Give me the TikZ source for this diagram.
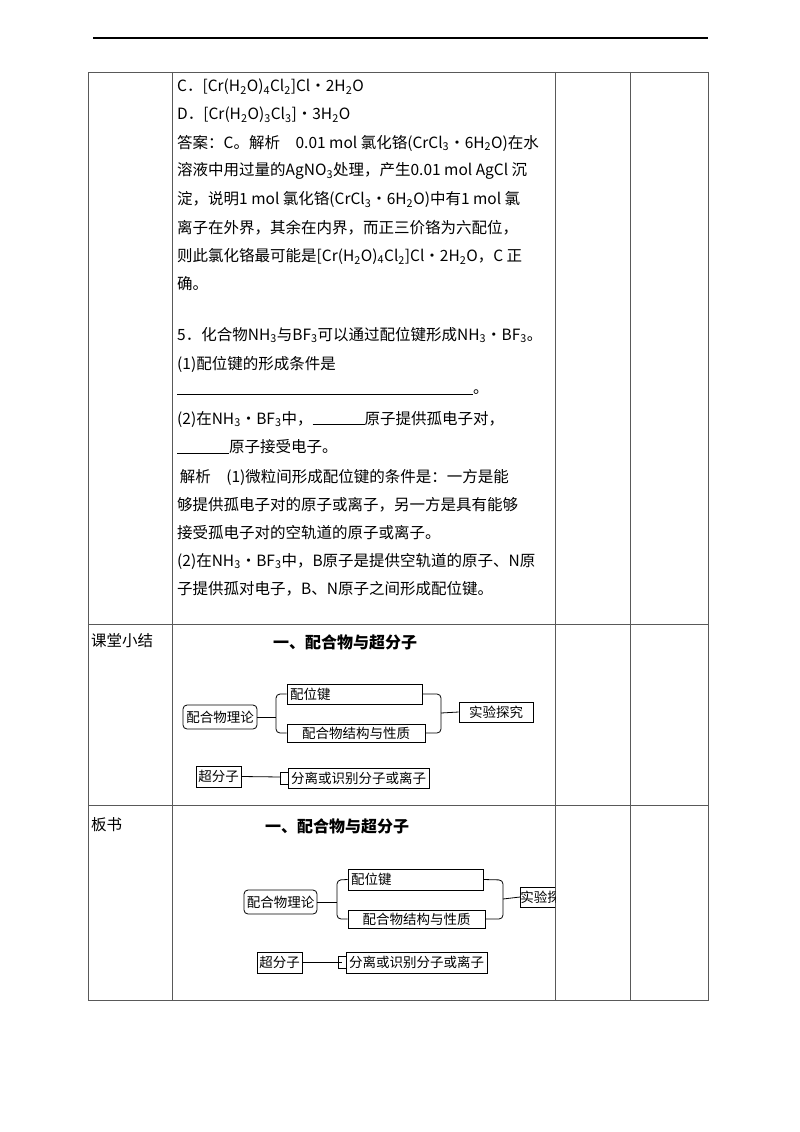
\documentclass[tikz,border=0pt]{standalone}
\usepackage{fontspec}
\setmainfont{Noto Sans CJK SC}
\begin{document}
\begin{tikzpicture}[x=1pt,y=-1pt,
  txt/.style={anchor=west,inner sep=0pt,font=\fontsize{15.5}{17}\selectfont},
  bx/.style={draw,line width=0.8pt,inner sep=0pt,font=\fontsize{13.5}{15}\selectfont},
  ln/.style={line width=0.8pt}]
\useasboundingbox (0,0) rectangle (800,1132);
\fill[white] (0,0) rectangle (800,1132);
% header rule
\draw[line width=1.2pt] (93,38) -- (708,38);
% table
\draw[line width=0.8pt,gray!70!black] (88,72) rectangle (708,1000);
\foreach \x in {172,555,630} \draw[line width=0.8pt,gray!70!black] (\x,72) -- (\x,1000);
\draw[line width=0.8pt,gray!70!black] (88,624) -- (708,624);
\draw[line width=0.8pt,gray!70!black] (88,805) -- (708,805);
\node[txt] (l1) at (91,641) {课堂小结};
\node[txt] (l2) at (91,825) {板书};
% main text
\node[txt] (t1) at (177,87) {C．[Cr(H\textsubscript{2}O)\textsubscript{4}Cl\textsubscript{2}]Cl·2H\textsubscript{2}O};
\node[txt] (t2) at (177,115) {D．[Cr(H\textsubscript{2}O)\textsubscript{3}Cl\textsubscript{3}]·3H\textsubscript{2}O};
\node[txt] (t3) at (177,143) {答案：C。解析\quad 0.01 mol 氯化铬(CrCl\textsubscript{3}·6H\textsubscript{2}O)在水};
\node[txt] (t4) at (177,171) {溶液中用过量的AgNO\textsubscript{3}处理，产生0.01 mol AgCl 沉};
\node[txt] (t5) at (177,199) {淀，说明1 mol 氯化铬(CrCl\textsubscript{3}·6H\textsubscript{2}O)中有1 mol 氯};
\node[txt] (t6) at (177,228) {离子在外界，其余在内界，而正三价铬为六配位，};
\node[txt] (t7) at (177,256) {则此氯化铬最可能是[Cr(H\textsubscript{2}O)\textsubscript{4}Cl\textsubscript{2}]Cl·2H\textsubscript{2}O，C 正};
\node[txt] (t8) at (177,284) {确。};
\node[txt] (t9) at (177,335) {5．化合物NH\textsubscript{3}与BF\textsubscript{3}可以通过配位键形成NH\textsubscript{3}·BF\textsubscript{3}。};
\node[txt] (t10) at (177,364) {(1)配位键的形成条件是};
\node[txt] (t11) at (177,392) {\rule[-1pt]{296pt}{0.6pt}。};
\node[txt] (t12) at (177,419) {(2)在NH\textsubscript{3}·BF\textsubscript{3}中，\rule[-1pt]{52pt}{0.6pt}原子提供孤电子对，};
\node[txt] (t13) at (177,447) {\rule[-1pt]{52pt}{0.6pt}原子接受电子。};
\node[txt] (t14) at (177,477) {\,解析\quad (1)微粒间形成配位键的条件是：一方是能};
\node[txt] (t15) at (177,505) {够提供孤电子对的原子或离子，另一方是具有能够};
\node[txt] (t16) at (177,533) {接受孤电子对的空轨道的原子或离子。};
\node[txt] (t17) at (177,561) {(2)在NH\textsubscript{3}·BF\textsubscript{3}中，B原子是提供空轨道的原子、N原};
\node[txt] (t18) at (177,589) {子提供孤对电子，B、N原子之间形成配位键。};
% diagram 1
\node[font=\bfseries\fontsize{16}{18}\selectfont] (h1) at (345,642) {一、配合物与超分子};
\node[bx,rounded corners=4pt,minimum width=74pt,minimum height=24pt] (a1) at (220,717) {配合物理论};
\node[bx,minimum width=135pt,minimum height=20pt,text width=129pt,align=left] (b1) at (354.5,694) {配位键};
\node[bx,minimum width=138pt,minimum height=18pt] (c1) at (356,733) {配合物结构与性质};
\node[bx,minimum width=74pt,minimum height=20pt] (d1) at (496,712) {实验探究};
\node[bx,minimum width=45pt,minimum height=21pt] (e1) at (218.5,776.5) {超分子};
\node[bx,minimum width=141pt,minimum height=20pt] (f1) at (358.5,778) {分离或识别分子或离子};
\draw[ln] (a1.east) -- (276,717);
\draw[ln,rounded corners=4pt] (b1.west) -- (276,694) -- (276,733) -- (c1.west);
\draw[ln,rounded corners=4pt] (b1.east) -- (441,694) -- (441,733) -- (c1.east);
\draw[ln] (441,713) -- (d1.west);
\draw[ln] (e1.east) -- (281,777);
\draw[ln] (f1.west) ++(0,-6) -- ++(-7,0) -- ++(0,12) -- ++(7,0);
% diagram 2
\node[font=\bfseries\fontsize{16}{18}\selectfont] (h2) at (337,826) {一、配合物与超分子};
\node[bx,rounded corners=4pt,minimum width=73pt,minimum height=24pt] (a2) at (280.5,902) {配合物理论};
\node[bx,minimum width=135pt,minimum height=21pt,text width=129pt,align=left] (b2) at (415.5,879.5) {配位键};
\node[bx,minimum width=137pt,minimum height=18pt] (c2) at (416.5,919) {配合物结构与性质};
\begin{scope}
\clip (500,860) rectangle (555,920);
\node[bx,minimum height=20pt,anchor=west] (d2) at (520,897) {实验探究};
\end{scope}
\node[bx,minimum width=45pt,minimum height=21pt] (e2) at (279.5,962.5) {超分子};
\node[bx,minimum width=141pt,minimum height=21pt] (f2) at (416.5,962.5) {分离或识别分子或离子};
\draw[ln] (a2.east) -- (337,902);
\draw[ln,rounded corners=4pt] (b2.west) -- (337,880) -- (337,919) -- (c2.west);
\draw[ln,rounded corners=4pt] (b2.east) -- (503,880) -- (503,919) -- (c2.east);
\draw[ln] (503,899) -- (d2.west);
\draw[ln] (e2.east) -- (342,962.5);
\draw[ln] (f2.west) ++(0,-6) -- ++(-7,0) -- ++(0,12) -- ++(7,0);
\end{tikzpicture}
\end{document}
